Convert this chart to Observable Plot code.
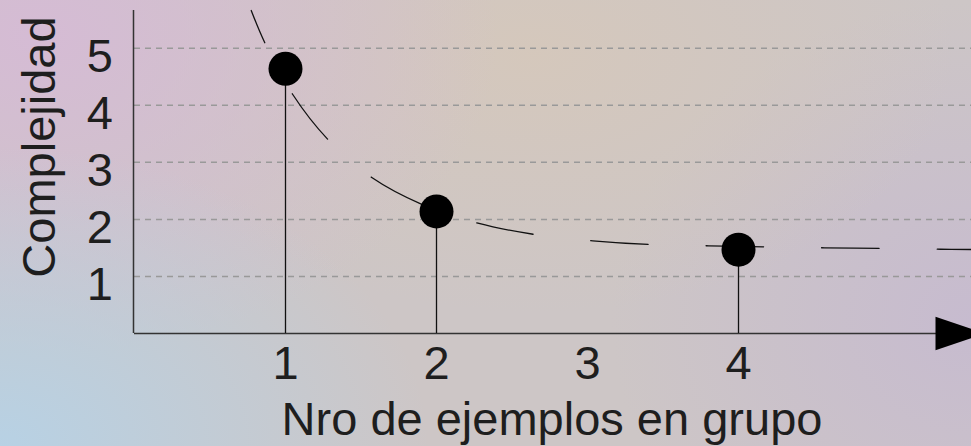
<!DOCTYPE html>
<html>
<head>
<meta charset="utf-8">
<script src="https://cdn.jsdelivr.net/npm/d3@7"></script>
<script src="https://cdn.jsdelivr.net/npm/@observablehq/plot@0.6"></script>
<style>
  html, body { margin: 0; padding: 0; }
  body {
    width: 971px; height: 446px; overflow: hidden;
    font-family: "Liberation Sans", Arial, sans-serif;
    background:
      radial-gradient(ellipse 430px 300px at 0% 100%, rgba(182,210,230,0.95), rgba(182,210,230,0) 100%),
      radial-gradient(ellipse 460px 320px at 4% 8%, rgba(214,186,214,0.9), rgba(214,186,214,0) 100%),
      radial-gradient(ellipse 420px 260px at 55% 12%, rgba(214,200,186,0.85), rgba(214,200,186,0) 100%),
      radial-gradient(ellipse 360px 320px at 100% 72%, rgba(198,186,208,0.9), rgba(198,186,208,0) 100%),
      #cdc6c6;
  }
  #chart svg { display: block; }
</style>
</head>
<body>
<div id="chart"></div>
<script>
// ---- data ----
const xTicks = [1, 2, 3, 4];
const yTicks = [1, 2, 3, 4, 5];
const groupSizes = [1, 2, 4];
const complexity = [4.64, 2.14, 1.47];
// dashed trend curve
const curveX = [0.773, 0.863, 1.048, 1.283, 1.574, 1.909, 2.274, 2.651, 3.035, 3.413, 3.803, 4.183, 4.570, 4.952, 5.338, 5.543];
const curveY = [5.661, 5.095, 4.189, 3.395, 2.729, 2.256, 1.933, 1.735, 1.625, 1.560, 1.537, 1.519, 1.502, 1.490, 1.477, 1.472];
const xLabel = "Nro de ejemplos en grupo";
const yLabel = "Complejidad";

const points = groupSizes.map((g, i) => ({g, c: complexity[i]}));
const curve = curveX.map((x, i) => ({x, y: curveY[i]}));

const arrowHead = {
  draw(ctx) {
    ctx.moveTo(-36, -16.7);
    ctx.lineTo(14, 0);
    ctx.lineTo(-36, 16.7);
    ctx.closePath();
  }
};

const textColor = "#1e1e1e";
const fs = 47;

const plot = Plot.plot({
  width: 971,
  height: 446,
  marginLeft: 134,
  marginRight: 0,
  marginTop: 10,
  marginBottom: 113,
  style: {background: "transparent", overflow: "visible", fontFamily: "'Liberation Sans', Arial, sans-serif"},
  x: {domain: [0, 5.543]},
  y: {domain: [0, 5.661]},
  marks: [
    Plot.ruleY(yTicks, {stroke: "#999", strokeWidth: 1.5, strokeDasharray: "6,5"}),
    Plot.ruleX([0], {stroke: "#333", strokeWidth: 1.5, dx: -1}),
    Plot.ruleY([0], {stroke: "#333", strokeWidth: 1.5}),
    Plot.line(curve, {x: "x", y: "y", curve: "catmull-rom", stroke: "#111", strokeWidth: 1.3,
      strokeDasharray: "57.5,58", strokeDashoffset: 22.5}),
    Plot.ruleX(points, {x: "g", y1: 0, y2: "c", stroke: "#111", strokeWidth: 1.3}),
    Plot.dot(points, {x: "g", y: "c", r: 17, fill: "black", stroke: "none"}),
    Plot.dot([0], {frameAnchor: "bottom-right", symbol: arrowHead, fill: "black", stroke: "none"}),
    Plot.axisX({ticks: xTicks, tickSize: 0, tickPadding: 12, fontSize: fs, fill: textColor, label: null, tickFormat: d => String(d)}),
    Plot.axisY({ticks: yTicks, tickSize: 0, tickPadding: 21.5, fontSize: fs, fill: textColor, label: null, dy: 9, tickFormat: d => String(d)}),
    Plot.text([yLabel], {frameAnchor: "left", textAnchor: "middle", rotate: -90, fontSize: fs, fill: textColor, dx: -94.5, dy: -25}),
    Plot.text([xLabel], {frameAnchor: "bottom", textAnchor: "middle", lineAnchor: "top", fontSize: fs, fill: textColor, dx: -1, dy: 68.6})
  ]
});
document.getElementById("chart").append(plot);
</script>
</body>
</html>
